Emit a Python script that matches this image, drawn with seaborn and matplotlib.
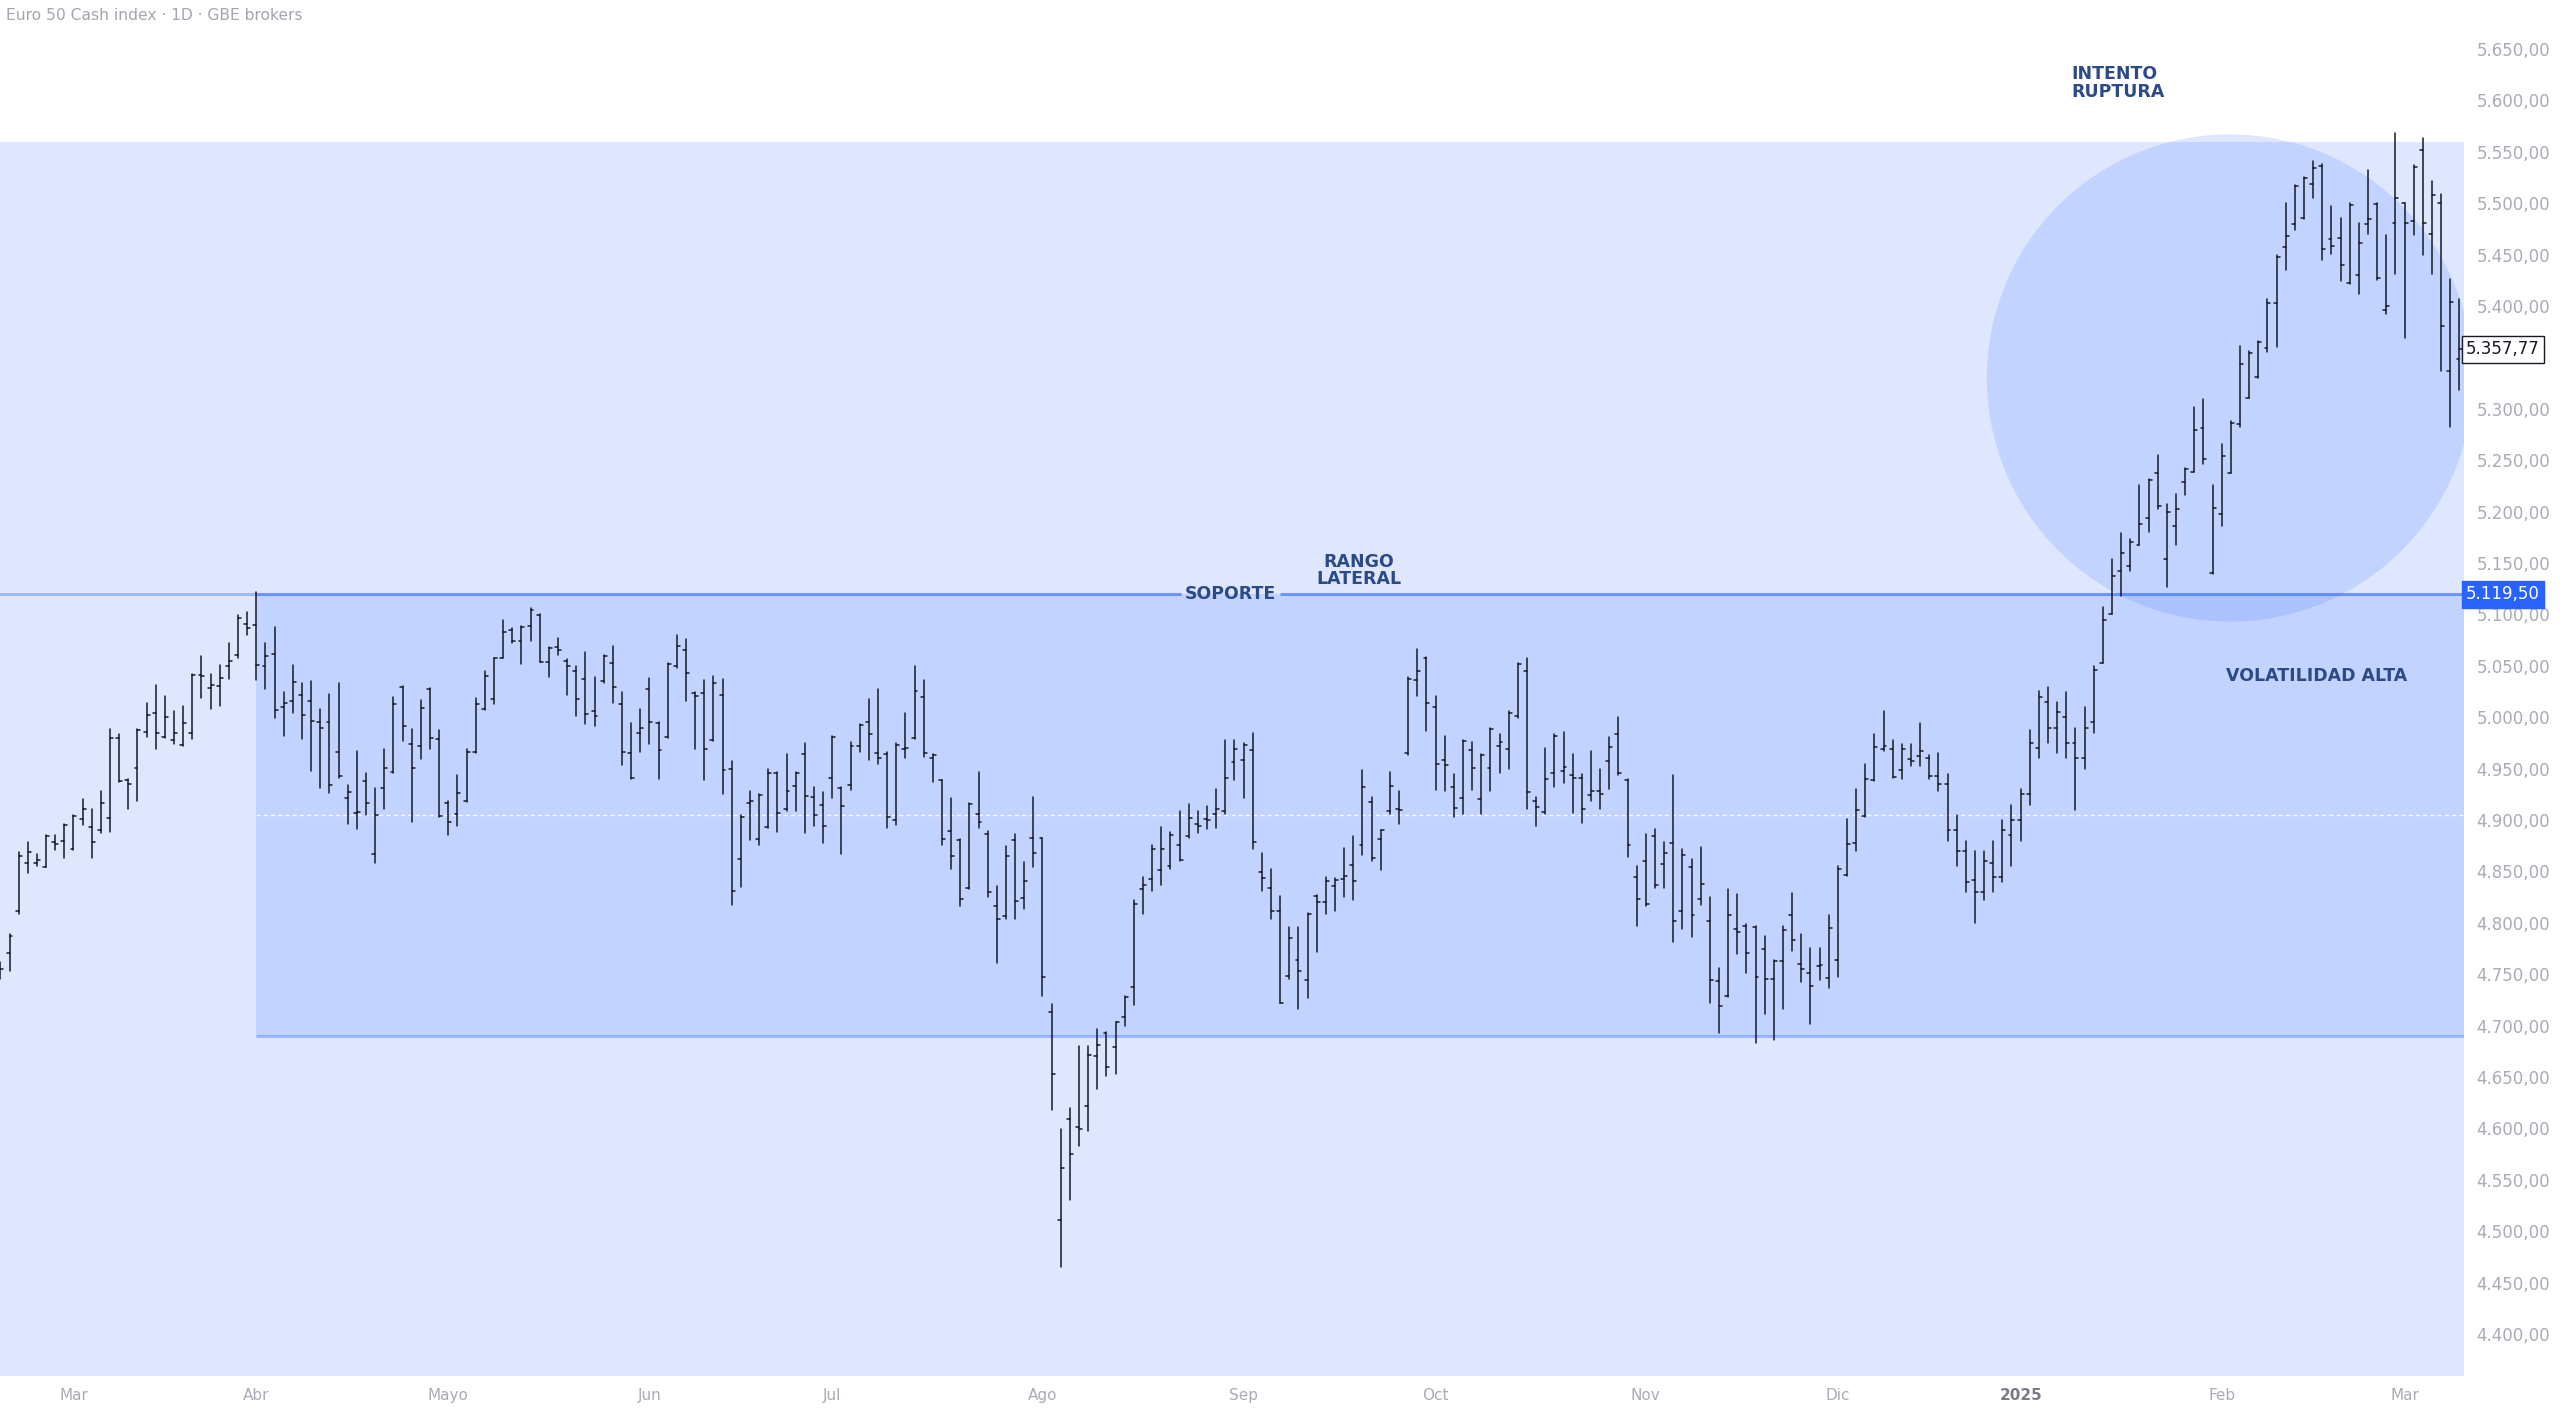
import numpy as np
import pandas as pd
import matplotlib.pyplot as plt
import matplotlib.transforms as mtransforms
import seaborn as sns
from matplotlib.patches import Rectangle, Ellipse
from matplotlib.ticker import FuncFormatter, FixedLocator

# Daily OHLC, Euro 50 Cash index
opens = [
    4752, 4771, 4812, 4858, 4858, 4854, 4879, 4880, 4872, 4901,
    4893, 4890, 4902, 4980, 4939, 4951, 4986, 5004, 4981, 4978,
    4973, 4985, 5041, 5028, 5030, 5050, 5061, 5091, 5090, 5050,
    5062, 5010, 5016, 5022, 5016, 4995, 4995, 4966, 4921, 4907,
    4938, 4867, 4931, 4947, 5029, 4974, 4972, 5027, 4979, 4917,
    4906, 4919, 4966, 5008, 5018, 5058, 5085, 5074, 5089, 5099,
    5054, 5068, 5055, 5045, 5037, 5006, 5035, 5053, 5013, 4965,
    4985, 5027, 4994, 4981, 5050, 5065, 5024, 5024, 4978, 5022,
    4950, 4862, 4917, 4882, 4893, 4946, 4911, 4933, 4964, 4922,
    4915, 4941, 4931, 4934, 4972, 4995, 4965, 4964, 4900, 4969,
    4980, 5020, 4960, 4939, 4889, 4881, 4834, 4906, 4886, 4816,
    4807, 4881, 4824, 4883, 4883, 4713, 4511, 4609, 4601, 4622,
    4670, 4693, 4679, 4708, 4738, 4833, 4843, 4851, 4855, 4876,
    4884, 4896, 4901, 4906, 4909, 4956, 4958, 4968, 4849, 4834,
    4812, 4748, 4764, 4744, 4826, 4820, 4836, 4843, 4856, 4876,
    4918, 4882, 4909, 4911, 4965, 5036, 5058, 5010, 4958, 4932,
    4921, 4968, 4920, 4951, 4972, 4969, 5001, 5045, 4919, 4908,
    4946, 4948, 4944, 4941, 4924, 4928, 4957, 4984, 4939, 4845,
    4860, 4884, 4857, 4878, 4812, 4854, 4823, 4802, 4743, 4729,
    4794, 4797, 4796, 4775, 4745, 4763, 4808, 4760, 4751, 4758,
    4746, 4764, 4847, 4878, 4904, 4939, 4969, 4969, 4949, 4959,
    4962, 4960, 4943, 4935, 4890, 4870, 4842, 4830, 4858, 4845,
    4885, 4900, 4925, 4970, 5015, 4990, 5000, 4975, 4960, 4995,
    5053, 5100, 5142, 5147, 5168, 5194, 5238, 5154, 5186, 5229,
    5239, 5281, 5140, 5198, 5238, 5285, 5311, 5331, 5359, 5403,
    5457, 5480, 5486, 5519, 5536, 5465, 5466, 5422, 5430, 5480,
    5499, 5396, 5481, 5500, 5483, 5552, 5470, 5500, 5337, 5348,
]
highs = [
    4762, 4789, 4869, 4879, 4867, 4885, 4885, 4896, 4905, 4920,
    4911, 4928, 4989, 4984, 4940, 4989, 5014, 5031, 5021, 5006,
    5011, 5042, 5060, 5042, 5051, 5072, 5099, 5102, 5122, 5072,
    5088, 5025, 5051, 5033, 5035, 5008, 5023, 5033, 4934, 4967,
    4946, 4931, 4969, 5020, 5030, 4989, 5017, 5028, 4988, 4919,
    4944, 4969, 5019, 5045, 5058, 5095, 5087, 5089, 5106, 5100,
    5068, 5077, 5057, 5050, 5063, 5039, 5061, 5069, 5025, 4994,
    5008, 5038, 4995, 5053, 5080, 5076, 5025, 5036, 5040, 5037,
    4957, 4905, 4928, 4925, 4950, 4947, 4964, 4947, 4975, 4932,
    4927, 4982, 4932, 4976, 4993, 5018, 5027, 4966, 4975, 5004,
    5050, 5036, 4964, 4939, 4921, 4882, 4917, 4947, 4889, 4836,
    4875, 4886, 4859, 4922, 4883, 4721, 4599, 4620, 4680, 4680,
    4697, 4694, 4704, 4729, 4822, 4845, 4876, 4893, 4888, 4909,
    4916, 4909, 4914, 4930, 4978, 4978, 4975, 4985, 4868, 4852,
    4826, 4796, 4796, 4810, 4827, 4845, 4844, 4873, 4884, 4949,
    4922, 4890, 4947, 4928, 5039, 5066, 5059, 5021, 4982, 4945,
    4978, 4976, 4964, 4990, 4984, 5006, 5053, 5058, 4922, 4970,
    4984, 4986, 4964, 4945, 4967, 4950, 4981, 5000, 4940, 4855,
    4886, 4891, 4879, 4944, 4872, 4862, 4874, 4825, 4756, 4833,
    4828, 4799, 4797, 4787, 4764, 4797, 4829, 4789, 4776, 4776,
    4808, 4855, 4901, 4930, 4955, 4984, 5006, 4978, 4974, 4974,
    4994, 4963, 4965, 4945, 4905, 4880, 4870, 4870, 4880, 4900,
    4915, 4930, 4988, 5026, 5029, 5015, 5025, 4990, 5010, 5050,
    5107, 5154, 5179, 5173, 5226, 5232, 5255, 5207, 5217, 5242,
    5302, 5310, 5226, 5266, 5288, 5361, 5356, 5366, 5407, 5450,
    5500, 5518, 5526, 5541, 5538, 5497, 5486, 5500, 5481, 5532,
    5500, 5469, 5568, 5500, 5537, 5563, 5522, 5509, 5426, 5407,
]
lows = [
    4745, 4753, 4809, 4848, 4855, 4854, 4871, 4863, 4871, 4895,
    4863, 4887, 4888, 4937, 4911, 4919, 4981, 4969, 4980, 4974,
    4972, 4979, 5019, 5008, 5011, 5037, 5058, 5080, 5036, 5027,
    4999, 4982, 5004, 4979, 4948, 4931, 4926, 4941, 4896, 4891,
    4905, 4858, 4911, 4946, 4977, 4898, 4959, 4969, 4903, 4885,
    4894, 4918, 4965, 5007, 5013, 5058, 5072, 5052, 5074, 5054,
    5039, 5061, 5022, 5001, 4993, 4991, 5033, 5014, 4954, 4940,
    4966, 4974, 4940, 4980, 5048, 5016, 4969, 4939, 4977, 4925,
    4817, 4835, 4881, 4876, 4892, 4888, 4909, 4909, 4887, 4894,
    4878, 4921, 4867, 4929, 4966, 4958, 4955, 4892, 4895, 4960,
    4979, 4961, 4937, 4876, 4852, 4816, 4833, 4892, 4825, 4761,
    4804, 4804, 4813, 4854, 4729, 4618, 4465, 4530, 4583, 4598,
    4638, 4651, 4653, 4700, 4720, 4809, 4831, 4837, 4852, 4860,
    4883, 4887, 4891, 4892, 4906, 4939, 4921, 4872, 4831, 4804,
    4722, 4745, 4716, 4727, 4772, 4809, 4812, 4825, 4822, 4866,
    4860, 4851, 4906, 4896, 4963, 5021, 4987, 4929, 4928, 4903,
    4906, 4929, 4906, 4928, 4946, 4950, 4999, 4911, 4894, 4906,
    4932, 4936, 4907, 4897, 4919, 4911, 4930, 4944, 4864, 4797,
    4816, 4834, 4834, 4781, 4794, 4786, 4817, 4722, 4693, 4728,
    4770, 4751, 4683, 4711, 4686, 4716, 4773, 4742, 4702, 4744,
    4737, 4747, 4846, 4870, 4903, 4938, 4967, 4941, 4940, 4953,
    4953, 4940, 4928, 4880, 4855, 4830, 4800, 4822, 4830, 4840,
    4855, 4880, 4915, 4960, 4975, 4965, 4960, 4910, 4950, 4985,
    5053, 5100, 5118, 5142, 5168, 5180, 5203, 5127, 5168, 5216,
    5239, 5246, 5139, 5186, 5238, 5282, 5311, 5330, 5355, 5360,
    5435, 5474, 5485, 5505, 5445, 5451, 5424, 5421, 5412, 5470,
    5425, 5392, 5431, 5369, 5469, 5450, 5431, 5337, 5282, 5318,
]
closes = [
    4755, 4787, 4865, 4869, 4861, 4884, 4877, 4895, 4904, 4911,
    4879, 4917, 4980, 4938, 4935, 4988, 5002, 4985, 5000, 4985,
    4994, 5041, 5040, 5031, 5038, 5055, 5097, 5087, 5051, 5060,
    5007, 5014, 5034, 5002, 4996, 4990, 4934, 4943, 4927, 4908,
    4917, 4905, 4951, 5013, 4991, 4951, 5009, 4980, 4904, 4898,
    4926, 4966, 5013, 5040, 5058, 5083, 5074, 5088, 5104, 5054,
    5067, 5065, 5050, 5018, 5003, 5001, 5060, 5029, 4966, 4941,
    4990, 4995, 4968, 5052, 5069, 5043, 5021, 4969, 5033, 4949,
    4831, 4903, 4919, 4924, 4946, 4907, 4928, 4946, 4923, 4905,
    4894, 4981, 4914, 4972, 4992, 4984, 4960, 4903, 4973, 4970,
    5026, 4965, 4963, 4882, 4865, 4823, 4916, 4898, 4830, 4804,
    4865, 4821, 4841, 4868, 4747, 4653, 4562, 4575, 4599, 4671,
    4681, 4660, 4704, 4728, 4818, 4837, 4872, 4872, 4885, 4861,
    4902, 4894, 4900, 4911, 4941, 4969, 4973, 4879, 4844, 4812,
    4722, 4785, 4753, 4809, 4820, 4841, 4842, 4846, 4841, 4932,
    4863, 4890, 4933, 4910, 5037, 5045, 5014, 4955, 4954, 4912,
    4977, 4951, 4963, 4989, 4976, 5004, 5052, 4927, 4913, 4940,
    4982, 4952, 4941, 4911, 4928, 4925, 4971, 4946, 4876, 4823,
    4818, 4837, 4868, 4802, 4866, 4808, 4838, 4744, 4719, 4808,
    4791, 4771, 4747, 4745, 4763, 4793, 4783, 4755, 4739, 4759,
    4795, 4852, 4877, 4910, 4940, 4971, 4972, 4942, 4969, 4957,
    4967, 4943, 4935, 4890, 4870, 4840, 4830, 4860, 4845, 4890,
    4900, 4925, 4975, 5020, 4990, 5005, 4975, 4960, 4990, 5046,
    5095, 5137, 5160, 5170, 5188, 5231, 5205, 5200, 5203, 5241,
    5279, 5251, 5204, 5254, 5286, 5344, 5354, 5365, 5403, 5448,
    5468, 5517, 5525, 5534, 5455, 5458, 5440, 5498, 5461, 5485,
    5427, 5400, 5505, 5481, 5535, 5481, 5508, 5381, 5404, 5357.77,
]

# trading days shown on the chart
holidays = ["2024-03-29", "2024-04-01", "2024-05-01",
            "2024-12-25", "2024-12-26", "2025-01-01"]
dates = pd.bdate_range("2024-02-20", "2025-03-11", freq="C", holidays=holidays)
month_labels = ["Mar", "Abr", "Mayo", "Jun", "Jul", "Ago", "Sep",
                "Oct", "Nov", "Dic", "2025", "Feb", "Mar"]

# drawing levels
support = 5119.5
range_low = 4690
zone_top = 5560
# 5.350 is hidden behind the last-price tag on the scale
price_ticks = [p for p in range(4400, 5701, 50) if p != 5350]

BLUE = "#2962ff"
NAVY = "#2c4a86"
BAR = "#161a25"
GREY = "#a9acb5"


def es_fmt(v, pos=None):
    s = f"{v:,.2f}"
    return s.replace(",", "X").replace(".", ",").replace("X", ".")


sns.set_theme(style="white")
plt.rcParams["font.family"] = ["DejaVu Sans"]

fig = plt.figure(figsize=(25.6, 14.14), dpi=100)
fig.patch.set_facecolor("white")
ax = fig.add_axes([0, 37.6 / 1414, 2464 / 2560, 1 - 37.6 / 1414])
ax.set_facecolor("white")

n = len(closes)
x = np.arange(n)
x_right = 269.5

# shaded zones
ax.add_patch(Rectangle((-5, 4000), x_right + 10, zone_top - 4000,
                       facecolor=BLUE, alpha=0.15, lw=0, zorder=0))
ax.add_patch(Rectangle((28, range_low), x_right + 5 - 28, support - range_low,
                       facecolor=BLUE, alpha=0.15, lw=0, zorder=1))
ax.add_patch(Ellipse((243.9, 5330), 53.2, 474,
                     facecolor=BLUE, alpha=0.15, lw=0, zorder=1))

# mid line of the range
mid = (support + range_low) / 2
ax.hlines(mid, 28, x_right + 5, colors="white", linestyles=(0, (3, 2.2)),
          lw=1, alpha=0.9, zorder=2)

# support ray + range borders (gap for the SOPORTE label)
gap = (129.1, 140.0)
ax.hlines(support, -5, gap[0], colors=BLUE, lw=2.2, alpha=0.35, zorder=2)
ax.hlines(support, gap[1], x_right + 5, colors=BLUE, lw=2.2, alpha=0.35, zorder=2)
ax.hlines(support, 28, gap[0], colors=BLUE, lw=2.2, alpha=0.35, zorder=2)
ax.hlines(support, gap[1], x_right + 5, colors=BLUE, lw=2.2, alpha=0.35, zorder=2)
ax.hlines(range_low, 28, x_right + 5, colors=BLUE, lw=2.2, alpha=0.35, zorder=2)

# OHLC bars as short segments
tick = 0.32
rows = []
for i in x:
    rows += [(3 * i, i, lows[i]), (3 * i, i, highs[i]),
             (3 * i + 1, i - tick, opens[i]), (3 * i + 1, i, opens[i]),
             (3 * i + 2, i, closes[i]), (3 * i + 2, i + tick, closes[i])]
seg = pd.DataFrame(rows, columns=["unit", "x", "price"])
sns.lineplot(data=seg, x="x", y="price", units="unit", estimator=None,
             sort=False, color=BAR, linewidth=1.1, ax=ax, zorder=4,
             legend=False)

# annotations
bold = dict(fontsize=12.5, fontweight="bold", color=NAVY, zorder=6)
ax.text(134.5, support, "SOPORTE", ha="center", va="center", **bold)
ax.text(148.6, 5143, "RANGO\nLATERAL", ha="center", va="center",
        linespacing=0.95, **bold)
ax.text(226.5, 5617, "INTENTO\nRUPTURA", ha="left", va="center",
        linespacing=0.95, **bold)
ax.text(253.4, 5040, "VOLATILIDAD ALTA", ha="center", va="center", **bold)

fig.text(6 / 2560, 1 - 16 / 1414, "Euro 50 Cash index · 1D · GBE brokers",
         fontsize=11.2, color="#a3a6af", ha="left", va="center")

# axes
ax.set_xlim(-0.04, x_right)
ax.set_ylim(4358.8, 5697.7)
ax.set(xlabel="", ylabel="")
for s in ax.spines.values():
    s.set_visible(False)

ax.yaxis.tick_right()
ax.yaxis.set_major_locator(FixedLocator(price_ticks))
ax.yaxis.set_major_formatter(FuncFormatter(es_fmt))
ax.tick_params(axis="y", length=0, pad=9, labelsize=12, labelcolor=GREY)

month_pos = [i for i in range(1, len(dates)) if dates[i].month != dates[i - 1].month]
ax.set_xticks(month_pos[:len(month_labels)])
ax.set_xticklabels(month_labels)
ax.tick_params(axis="x", length=0, pad=8, labelsize=11, labelcolor=GREY)
for lbl in ax.get_xticklabels():
    if lbl.get_text() == "2025":
        lbl.set_fontweight("bold")
        lbl.set_color("#787b86")

# price tags on the scale
trans = mtransforms.blended_transform_factory(ax.transAxes, ax.transData)
ax.text(1.0008, closes[-1], es_fmt(closes[-1]), transform=trans, ha="left",
        va="center", fontsize=12, color=BAR, clip_on=False, zorder=10,
        bbox=dict(boxstyle="square,pad=0.25", fc="white", ec=BAR, lw=1))
ax.text(1.0008, support, es_fmt(support), transform=trans, ha="left",
        va="center", fontsize=12, color="white", clip_on=False, zorder=10,
        bbox=dict(boxstyle="square,pad=0.25", fc=BLUE, ec=BLUE, lw=1))

plt.savefig("out.png", dpi=100)
